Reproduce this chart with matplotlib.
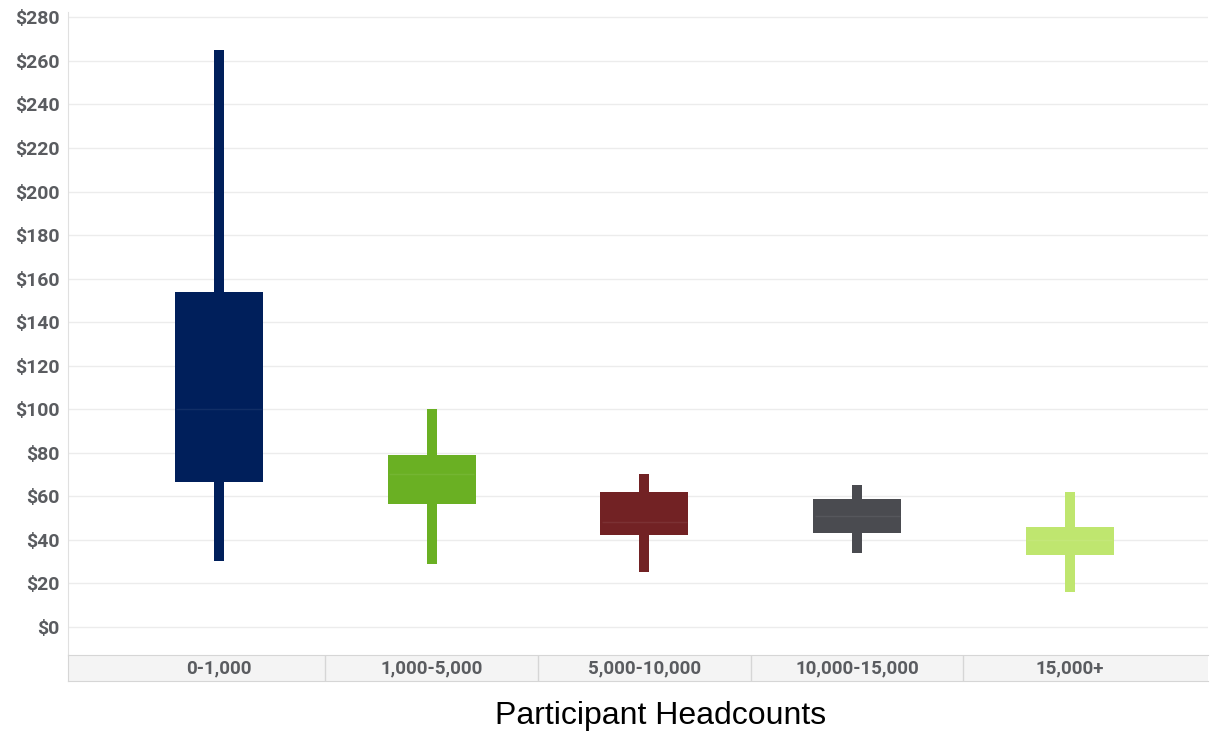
import numpy as np
import matplotlib.pyplot as plt

categories = ["0-1,000", "1,000-5,000", "5,000-10,000", "10,000-15,000", "15,000+"]
whisker_low = [30, 29, 25, 34, 16]
q1 = [66.5, 56.5, 42, 43, 33]
median = [100, 70, 48, 51, 40]
q3 = [154, 79, 62, 58.5, 45.7]
whisker_high = [265, 100, 70, 65, 62]
colors = ["#001f5b", "#6ab023", "#722224", "#4a4b50", "#bfe66f"]
yticks = list(range(0, 281, 20))

W, H = 1218, 734
fig = plt.figure(figsize=(W / 100, H / 100), dpi=100)

x = np.arange(len(categories))
xlim = (-0.71, 4.65)

ax = fig.add_axes([68 / W, 79 / H, (1208 - 68) / W, (655 - 12) / H])
ax.set_xlim(*xlim)
ax.set_ylim(-13, 282.5)

for i in x:
    ax.bar(i, whisker_high[i] - whisker_low[i], bottom=whisker_low[i],
           width=0.047, color=colors[i], zorder=3)
    ax.bar(i, q3[i] - q1[i], bottom=q1[i], width=0.413,
           color=colors[i], zorder=3)
    ax.hlines(median[i], i - 0.2, i + 0.2, colors="white", alpha=0.07,
              linewidth=1, zorder=4)

ax.set_yticks(yticks)
ax.set_yticklabels([f"${v}" for v in yticks], fontfamily="Roboto",
                   fontweight="bold", fontsize=14, color="#5a5c60")
ax.tick_params(axis="y", length=0, pad=6)
ax.set_xticks([])
ax.grid(axis="y", color="#ececec", linewidth=1)
ax.set_axisbelow(True)
for s in ["top", "right", "bottom"]:
    ax.spines[s].set_visible(False)
ax.spines["left"].set_color("#e0e0e0")

# category band
bx = fig.add_axes([68 / W, 53 / H, (1208 - 68) / W, 26 / H])
bx.set_xlim(*xlim)
bx.set_ylim(0, 1)
bx.set_facecolor("#f4f4f4")
for b in x[:-1] + 0.5:
    bx.axvline(b, color="#d6d6d6", linewidth=1)
for i, c in zip(x, categories):
    bx.text(i, 0.5, c, ha="center", va="center", fontfamily="Roboto",
            fontweight="bold", fontsize=13.5, color="#5a5c60")
bx.set_xticks([])
bx.set_yticks([])
for s in bx.spines.values():
    s.set_color("#d6d6d6")
bx.spines["right"].set_visible(False)

fig.text(661 / W, 1 - 716 / H, "Participant Headcounts", ha="center",
         va="center", fontsize=23, fontfamily="Liberation Sans", color="black")

fig.savefig("out.png", dpi=100)
